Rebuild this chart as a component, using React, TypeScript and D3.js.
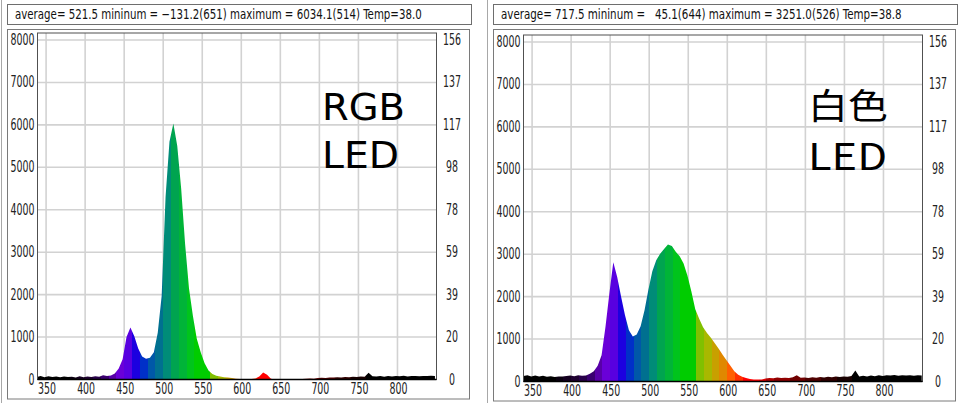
import React, { useEffect, useRef } from 'react';
import * as d3 from 'd3';

// axis ticks
const xTicks = [350, 400, 450, 500, 550, 600, 650, 700, 750, 800];
const yTicks = [0, 1000, 2000, 3000, 4000, 5000, 6000, 7000, 8000];
const rightTicks = ['0', '20', '39', '59', '78', '98', '117', '137', '156'];

// RGB LED spectrum, sampled every 5 nm from 338 nm
const rgbWavelengths = d3.range(338, 850, 5);
const rgbValues = [
  60, 80, 55, 75, 60, 70, 55, 70, 60, 65,
  50, 75, 55, 70, 60, 75, 65, 100, 85, 95,
  140, 260, 480, 1000, 1226, 1020, 730, 540, 490, 510,
  640, 1100, 1970, 4300, 5600, 6034, 5500, 4500, 3200, 2150,
  1500, 960, 640, 380, 210, 130, 90, 70, 55, 45,
  35, 20, 10, 5, 5, 10, 25, 70, 165, 110,
  15, 0, 0, -131, 0, 5, 0, 5, 10, 15,
  25, 20, 35, 40, 35, 50, 45, 55, 50, 60,
  55, 65, 60, 70, 65, 160, 75, 70, 80, 65,
  85, 70, 80, 75, 90, 70, 85, 80, 75, 85,
  80, 90, 85,
];

// white LED spectrum, sampled every 5 nm from 339 nm
const whiteWavelengths = d3.range(339, 851, 5);
const whiteValues = [
  130, 150, 120, 140, 115, 135, 110, 125, 105, 120,
  115, 130, 140, 125, 145, 135, 140, 180, 240, 370,
  620, 1290, 2080, 2810, 2460, 2000, 1560, 1210, 1060, 1110,
  1300, 1680, 2170, 2600, 2860, 3010, 3120, 3230, 3190, 3060,
  2950, 2780, 2490, 2120, 1700, 1480, 1280, 1140, 1030, 900,
  770, 630, 500, 370, 240, 160, 110, 80, 60, 50,
  50, 45, 70, 85, 75, 95, 80, 90, 85, 100,
  150, 90, 95, 85, 100, 90, 105, 95, 110, 100,
  115, 105, 120, 110, 130, 260, 120, 135, 115, 140,
  125, 150, 130, 145, 140, 155, 135, 150, 140, 145,
  135, 150, 140,
];

// wavelength colour bands
const bandStarts = [
  330, 380, 390, 400, 410, 420, 430, 440, 450, 460,
  470, 480, 490, 500, 510, 520, 530, 540, 560, 570,
  580, 590, 600, 610, 620, 640, 650, 660, 680, 700,
  720, 740, 760,
];
const bandColors = [
  '#000000', '#0a0010', '#140020', '#1e0030', '#28004a', '#3a0070', '#5800a8', '#6a00d8', '#5800e0', '#1c00e0',
  '#0030c8', '#0058a8', '#007090', '#008c78', '#00a450', '#00b438', '#00c41c', '#00cc00', '#80c000', '#a8b800',
  '#c8a000', '#e08800', '#ff6000', '#ff3000', '#ff0000', '#e00000', '#b00000', '#900000', '#700000', '#500000',
  '#300000', '#180000', '#000000',
];

const titleLeft = 'average= 521.5 mininum = \u2212131.2(651) maximum = 6034.1(514) Temp=38.0';
const titleRight = 'average= 717.5 mininum =   45.1(644) maximum = 3251.0(526) Temp=38.8';

const narrow = "'Liberation Sans Narrow', 'DejaVu Sans Condensed', 'Liberation Sans', sans-serif";

const App: React.FC = () => {
  const svgRef = useRef<SVGSVGElement>(null);

  useEffect(() => {
    const svg = d3.select(svgRef.current);
    svg.selectAll('*').remove();

    // window edges
    svg.append('line').attr('x1', 1.5).attr('x2', 1.5).attr('y1', 0).attr('y2', 403).attr('stroke', '#a8a8a8');
    svg.append('line').attr('x1', 487.5).attr('x2', 487.5).attr('y1', 0).attr('y2', 403).attr('stroke', '#a8a8a8');

    const drawPanel = (
      id: string, dx: number, dy: number, title: string, titleLen: number,
      wl: number[], vals: number[], big: string[], bigLen: number[], bigSize: number[], bigFont: string
    ) => {
      const g = svg.append('g');
      const left = 37.5 + dx, right = 436.5 + dx, top = 33 + dy, bottom = 379.5 + dy;

      // title box
      g.append('rect').attr('x', 7.5 + dx).attr('y', 4.5).attr('width', 464).attr('height', 20)
        .attr('fill', '#fff').attr('stroke', '#6e6e6e');
      const tt = g.append('text').attr('x', 0).attr('y', 0)
        .attr('font-family', narrow).attr('font-size', 14).attr('fill', '#111')
        .style('white-space', 'pre').text(title);
      const natural = (tt.node() as SVGTextElement).getComputedTextLength() || titleLen;
      tt.attr('transform', `translate(${15 + dx},19) scale(${titleLen / natural},1)`);

      // outer frame
      g.append('rect').attr('x', 7.5 + dx).attr('y', 29.5).attr('width', 462).attr('height', 369.5 + dy)
        .attr('fill', '#fff').attr('stroke', '#7a7a7a');

      const x = d3.scaleLinear().domain([339, 850]).range([left, right]);
      const y = d3.scaleLinear().domain([0, 8000]).range([bottom, 40 + dy]);

      // grid
      g.append('g').selectAll('line').data(xTicks).enter().append('line')
        .attr('x1', d => x(d)).attr('x2', d => x(d)).attr('y1', top).attr('y2', bottom)
        .attr('stroke', '#d2d2d2').attr('stroke-width', 1.6);
      g.append('g').selectAll('line').data(yTicks.slice(1)).enter().append('line')
        .attr('x1', left).attr('x2', right).attr('y1', d => y(d)).attr('y2', d => y(d))
        .attr('stroke', '#d2d2d2').attr('stroke-width', 1.6);

      // stepped colour gradient
      const defs = g.append('defs');
      const grad = defs.append('linearGradient').attr('id', `grad-${id}`)
        .attr('gradientUnits', 'userSpaceOnUse')
        .attr('x1', left).attr('x2', right).attr('y1', 0).attr('y2', 0);
      const span = right - left;
      bandStarts.forEach((s, i) => {
        const e = i < bandStarts.length - 1 ? bandStarts[i + 1] : 860;
        const o1 = Math.min(1, Math.max(0, (x(s) - left) / span));
        const o2 = Math.min(1, Math.max(0, (x(e) - left) / span));
        grad.append('stop').attr('offset', o1).attr('stop-color', bandColors[i]);
        grad.append('stop').attr('offset', o2).attr('stop-color', bandColors[i]);
      });
      defs.append('clipPath').attr('id', `clip-${id}`).append('rect')
        .attr('x', left).attr('y', top).attr('width', right - left).attr('height', bottom - top);

      const pts = wl.map((w, i) => ({ w, v: vals[i] }));
      const area = d3.area<{ w: number; v: number }>()
        .x(d => x(d.w)).y0(bottom).y1(d => y(Math.max(0, d.v)))
        .curve(d3.curveLinear);
      g.append('path').datum(pts).attr('d', area)
        .attr('fill', `url(#grad-${id})`).attr('clip-path', `url(#clip-${id})`);

      // plot frame
      g.append('rect').attr('x', left).attr('y', top).attr('width', right - left).attr('height', bottom - top)
        .attr('fill', 'none').attr('stroke', '#505050');
      g.append('line').attr('x1', left).attr('x2', right).attr('y1', bottom).attr('y2', bottom)
        .attr('stroke', '#000').attr('stroke-width', 1.5);

      // left labels
      g.append('g').selectAll('text').data(yTicks).enter().append('text')
        .attr('x', left - 3).attr('y', d => y(d) + 5).attr('text-anchor', 'end')
        .attr('font-family', narrow).attr('font-size', 15).attr('fill', '#222')
        .attr('textLength', d => String(d).length * 6).attr('lengthAdjust', 'spacingAndGlyphs')
        .text(d => String(d));
      // right labels
      g.append('g').selectAll('text').data(rightTicks).enter().append('text')
        .attr('x', right + 15.5).attr('y', (d, i) => y(yTicks[i]) + 5).attr('text-anchor', 'middle')
        .attr('font-family', narrow).attr('font-size', 15).attr('fill', '#222')
        .attr('textLength', d => d.length * 6).attr('lengthAdjust', 'spacingAndGlyphs')
        .text(d => d);
      // bottom labels
      g.append('g').selectAll('text').data(xTicks).enter().append('text')
        .attr('x', d => x(d) + 1).attr('y', bottom + 14).attr('text-anchor', 'middle')
        .attr('font-family', narrow).attr('font-size', 15).attr('fill', '#222')
        .attr('textLength', 18).attr('lengthAdjust', 'spacingAndGlyphs')
        .text(d => String(d));

      // big annotation
      big.forEach((t, i) => {
        g.append('text').attr('x', 322 + dx).attr('y', (i === 0 ? 119.5 : 167.5) + dy - (bigSize[i] < 37 ? 3 : 0))
          .attr('font-family', bigFont).attr('font-size', bigSize[i]).attr('fill', '#000')
          .attr('textLength', bigLen[i]).attr('lengthAdjust', 'spacingAndGlyphs')
          .text(t);
      });
    };

    drawPanel('rgb', 0, 0, titleLeft, 407, rgbWavelengths, rgbValues, ['RGB', 'LED'], [83, 77], [37, 37],
      "'DejaVu Sans', 'Noto Sans', sans-serif");
    drawPanel('white', 486, 2, titleRight, 401, whiteWavelengths, whiteValues, ['白色', 'LED'], [80, 79], [35, 37],
      "'Noto Sans CJK JP', 'DejaVu Sans', sans-serif");
  }, []);

  return (
    <svg ref={svgRef} width={960} height={403}
      style={{ position: 'absolute', left: 0, top: 0, background: '#fff' }} />
  );
};

export default App;
